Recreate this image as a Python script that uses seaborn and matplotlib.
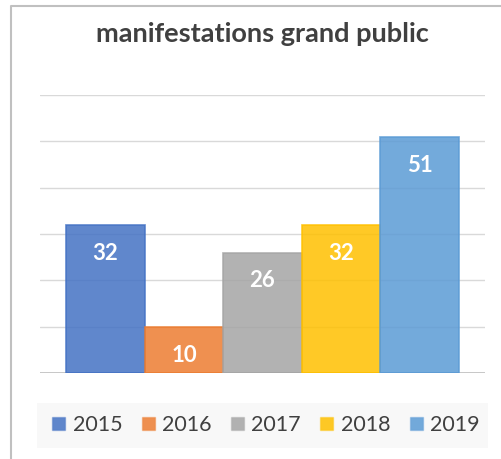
import matplotlib
matplotlib.use("Agg")
import matplotlib.pyplot as plt
import matplotlib.colors as mcolors
from matplotlib.patches import Patch, Rectangle
from matplotlib.lines import Line2D
import seaborn as sns

years = ["2015", "2016", "2017", "2018", "2019"]
values = [32, 10, 26, 32, 51]
colors = ["#4472C4", "#ED7D31", "#A5A5A5", "#FFC000", "#5B9BD5"]
title = "manifestations grand public"

sns.set_style("white")
plt.rcParams["font.family"] = ["Lato", "DejaVu Sans"]

fig = plt.figure(figsize=(5.02, 4.59), dpi=100)
ax = fig.add_axes([40 / 502, 1 - 373 / 459, 445 / 502, 278 / 459])

sns.barplot(x=years, y=values, hue=years, palette=colors, width=1,
            saturation=1, alpha=0.85, legend=False, ax=ax)
for p, c in zip(ax.patches, colors):
    p.set_edgecolor(mcolors.to_rgba(c, 0.35))
    p.set_linewidth(1.2)

for cont in ax.containers:
    ax.bar_label(cont, padding=-28, color="white", fontsize=16,
                 fontweight="bold")

ax.set_xlim(-0.83, 4.83)
ax.set_ylim(0, 60)
ax.set_yticks(range(0, 61, 10))
ax.yaxis.grid(True, color="#D9D9D9", lw=1)
ax.set_axisbelow(True)
ax.axhline(0, color="#BFBFBF", lw=1.3, zorder=0.5)
ax.set_xticks([]); ax.set_yticklabels([])
ax.tick_params(length=0)
ax.set_xlabel(""); ax.set_ylabel("")
sns.despine(ax=ax, left=True, bottom=True)

fig.text(262 / 502, 1 - 34 / 459, title, ha="center", va="center",
         fontsize=19.5, fontweight="bold", color="#404040")

# chart frame (left and top edges visible)
fig.add_artist(Line2D([11 / 502, 11 / 502, 1], [0, 1 - 6 / 459, 1 - 6 / 459],
                      transform=fig.transFigure, color="#C0C0C0", lw=1.5))

# legend background
fig.add_artist(Rectangle((37 / 502, 1 - 448 / 459), 451 / 502, 45 / 459,
                         transform=fig.transFigure, facecolor="#F8F8F8",
                         edgecolor="none", zorder=0))
handles = [Patch(facecolor=mcolors.to_rgba(c, 0.85),
                 edgecolor=mcolors.to_rgba(c, 0.4)) for c in colors]
fig.legend(handles, years, loc="center", bbox_to_anchor=(266 / 502, 1 - 425 / 459),
           ncol=5, frameon=False, fontsize=15.5, labelcolor="#404040",
           handlelength=0.6, handleheight=0.6, handletextpad=0.35,
           columnspacing=0.9)

fig.savefig("out.png", dpi=100)
